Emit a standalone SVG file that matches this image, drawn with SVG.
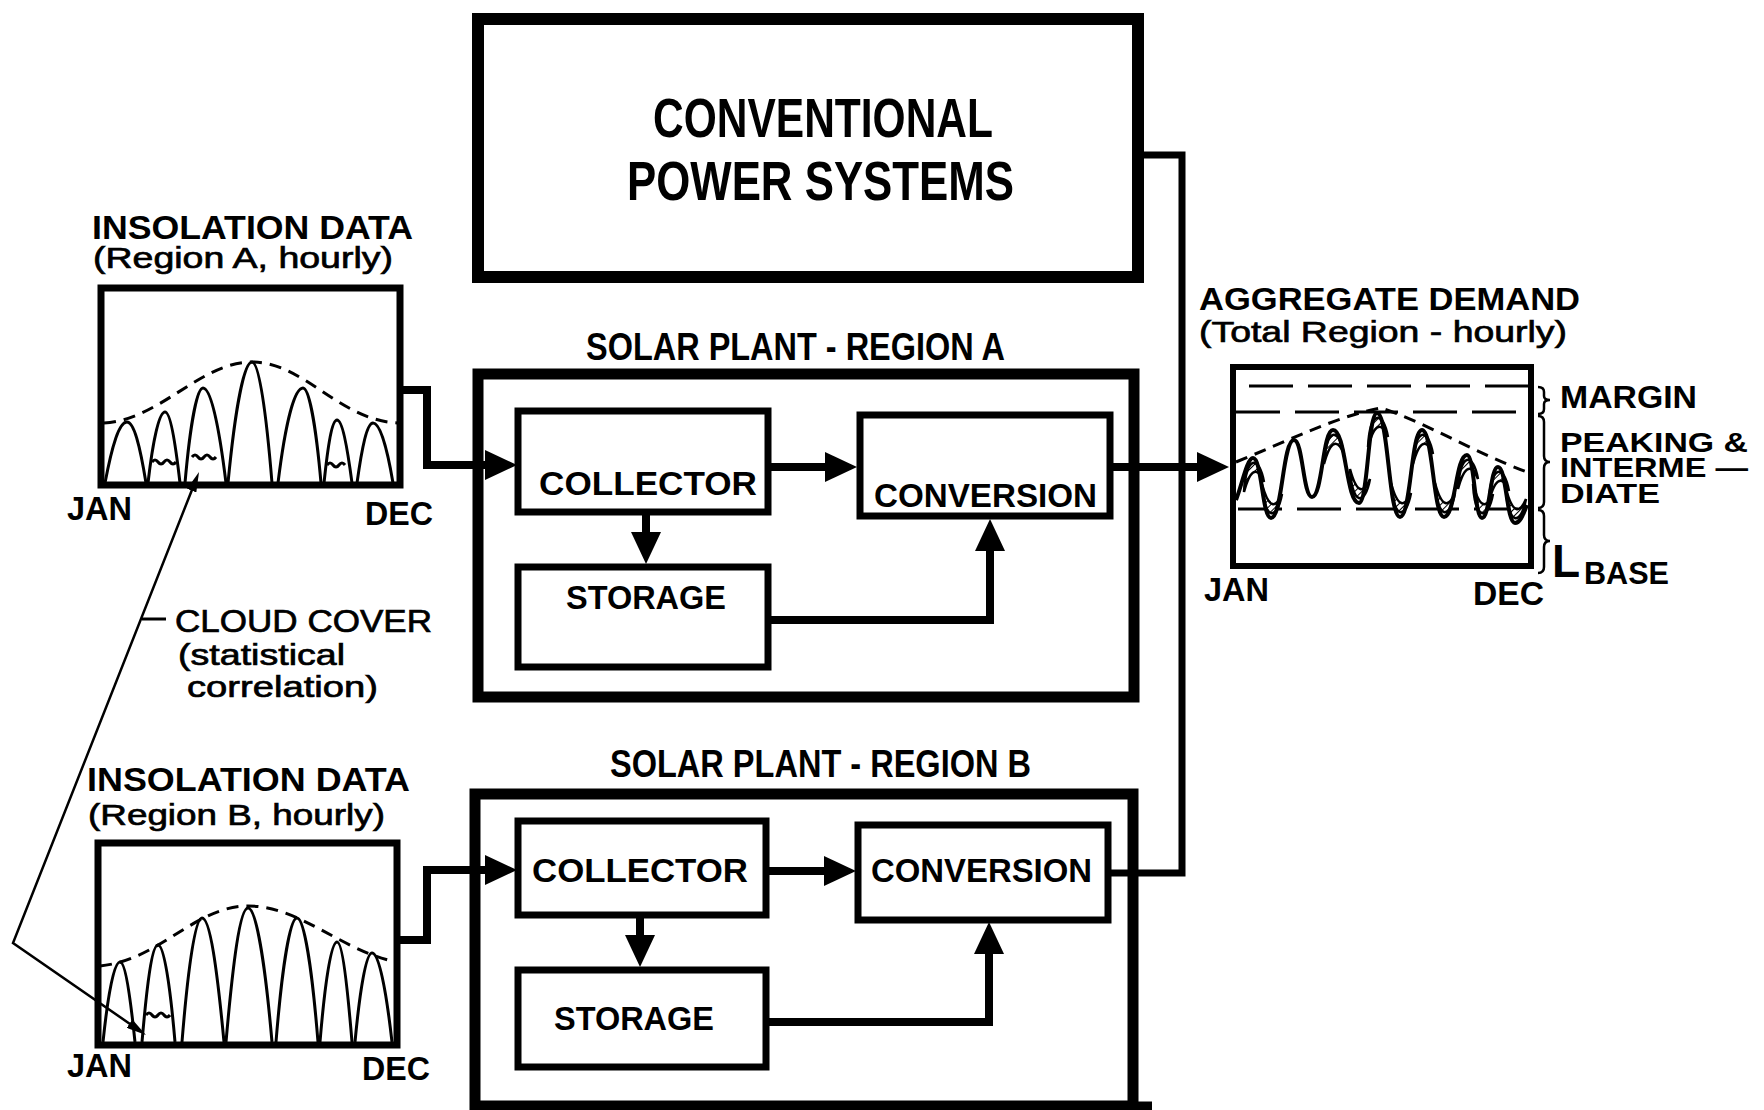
<svg xmlns="http://www.w3.org/2000/svg" width="1764" height="1110" viewBox="0 0 1764 1110">
<style>
.bg{fill:#fff}
.box{fill:none;stroke:#000;stroke-linejoin:miter}
.t{font-family:'Liberation Sans',Arial,sans-serif;font-weight:bold;fill:#000}
.tn{font-family:'Liberation Sans',Arial,sans-serif;font-weight:normal;fill:#000;stroke:#000;stroke-width:0.7}
.cond{font-family:'Liberation Sans Narrow','Liberation Sans',Arial,sans-serif;font-weight:bold;fill:#000}
.wire{fill:none;stroke:#000;stroke-width:8;stroke-linejoin:miter}
.thin{fill:none;stroke:#000;stroke-width:2.5}
.bell{fill:none;stroke:#000;stroke-width:3}
.env{fill:none;stroke:#000;stroke-width:3;stroke-dasharray:12 8}
.lvl{fill:none;stroke:#000;stroke-width:3;stroke-dasharray:44 15}
.lens{fill:url(#hatch);stroke:#000;stroke-width:2.5}
</style>
<defs>
<marker id="ah" viewBox="0 0 32 30" refX="12" refY="15" markerWidth="32" markerHeight="30" markerUnits="userSpaceOnUse" orient="auto">
<path d="M0,0 L32,15 L0,30 Z" fill="#000"/>
</marker>
<marker id="sa" viewBox="0 0 20 10" refX="8" refY="5" markerWidth="20" markerHeight="10" markerUnits="userSpaceOnUse" orient="auto-start-reverse">
<path d="M0,0 L20,5 L0,10 Z" fill="#000"/>
</marker>
<pattern id="hatch" patternUnits="userSpaceOnUse" width="5" height="5" patternTransform="rotate(45)">
<rect width="5" height="5" fill="#fff"/>
<line x1="0" y1="0" x2="0" y2="5" stroke="#000" stroke-width="2"/>
</pattern>
</defs>
<rect class="bg" width="1764" height="1110"/>

<g id="conventional">
<rect class="box" x="478" y="19" width="660" height="258" stroke-width="12"/>
<text class="cond" x="653" y="137" font-size="56" textLength="340" lengthAdjust="spacingAndGlyphs">CONVENTIONAL</text>
<text class="cond" x="627" y="200" font-size="56" textLength="387" lengthAdjust="spacingAndGlyphs">POWER SYSTEMS</text>
</g>

<g id="plant-a">
<text class="cond" x="586" y="360" font-size="39" textLength="419" lengthAdjust="spacingAndGlyphs">SOLAR PLANT - REGION A</text>
<rect class="box" x="478" y="374" width="656" height="323" stroke-width="11"/>
</g>
<g id="collector-a">
<rect class="box" x="518" y="411" width="250" height="101" stroke-width="7"/>
<text class="t" x="539" y="495" font-size="33" textLength="218" lengthAdjust="spacingAndGlyphs">COLLECTOR</text>
</g>
<g id="conversion-a">
<rect class="box" x="860" y="415" width="250" height="101" stroke-width="7"/>
<text class="t" x="874" y="507" font-size="33" textLength="223" lengthAdjust="spacingAndGlyphs">CONVERSION</text>
</g>
<g id="storage-a">
<rect class="box" x="518" y="567" width="250" height="100" stroke-width="7"/>
<text class="t" x="566" y="609" font-size="33" textLength="160" lengthAdjust="spacingAndGlyphs">STORAGE</text>
</g>

<g id="plant-b">
<text class="cond" x="610" y="777" font-size="39" textLength="421" lengthAdjust="spacingAndGlyphs">SOLAR PLANT - REGION B</text>
<rect class="box" x="475" y="794" width="658" height="312" stroke-width="11"/>
<path d="M1133,1106 H1152" fill="none" stroke="#000" stroke-width="9"/>
</g>
<g id="collector-b">
<rect class="box" x="518" y="821" width="248" height="94" stroke-width="7"/>
<text class="t" x="532" y="882" font-size="33" textLength="216" lengthAdjust="spacingAndGlyphs">COLLECTOR</text>
</g>
<g id="conversion-b">
<rect class="box" x="858" y="825" width="250" height="95" stroke-width="7"/>
<text class="t" x="871" y="882" font-size="33" textLength="221" lengthAdjust="spacingAndGlyphs">CONVERSION</text>
</g>
<g id="storage-b">
<rect class="box" x="518" y="970" width="248" height="97" stroke-width="7"/>
<text class="t" x="554" y="1030" font-size="33" textLength="160" lengthAdjust="spacingAndGlyphs">STORAGE</text>
</g>

<g id="insolation-a">
<text class="t" x="92" y="239" font-size="33" textLength="321" lengthAdjust="spacingAndGlyphs">INSOLATION DATA</text>
<text class="tn" x="93" y="268" font-size="30" textLength="300" lengthAdjust="spacingAndGlyphs">(Region A, hourly)</text>
<rect class="box" x="101" y="288" width="299" height="197" stroke-width="7"/>
<path class="env" d="M104,423 C160,420 200,362 252,362 C305,362 340,422 400,423"/>
<path class="bell" d="M105,483 C112,446 119,422 127,422 C134,422 140,446 146,483"/>
<path class="bell" d="M148,483 C153,440 159,412 165,412 C170,412 175,440 180,483"/>
<path class="bell" d="M185,483 C190,426 197,388 203,388 C211,388 219,426 226,483"/>
<path class="bell" d="M228,483 C235,410 244,362 252,362 C259,362 266,410 272,483"/>
<path class="bell" d="M278,483 C285,426 294,388 303,388 C309,388 316,426 321,483"/>
<path class="bell" d="M324,483 C328,445 332,420 337,420 C342,420 347,445 352,483"/>
<path class="bell" d="M357,483 C362,447 367,423 373,423 C380,423 387,447 393,483"/>
<path class="bell" d="M152,462 q3,-4 6,0 t6,0 t6,0 t6,0"/>
<path class="bell" d="M192,457 q3,-4 6,0 t6,0 t6,0 t6,0"/>
<path class="bell" d="M327,465 q3,-4 6,0 t6,0 t6,0"/>
<text class="t" x="67" y="520" font-size="33" textLength="65" lengthAdjust="spacingAndGlyphs">JAN</text>
<text class="t" x="365" y="525" font-size="33" textLength="68" lengthAdjust="spacingAndGlyphs">DEC</text>
</g>

<g id="insolation-b">
<text class="t" x="87" y="791" font-size="33" textLength="323" lengthAdjust="spacingAndGlyphs">INSOLATION DATA</text>
<text class="tn" x="88" y="825" font-size="30" textLength="297" lengthAdjust="spacingAndGlyphs">(Region B, hourly)</text>
<rect class="box" x="98" y="843" width="299" height="202" stroke-width="7"/>
<path class="env" d="M100,966 C160,960 195,906 248,906 C300,906 340,950 396,962"/>
<path class="bell" d="M103,1042 C108,994 114,962 120,962 C125,962 130,994 135,1042"/>
<path class="bell" d="M142,1042 C147,984 152,945 158,945 C164,945 170,984 175,1042"/>
<path class="bell" d="M182,1042 C188,968 195,918 202,918 C210,918 217,968 224,1042"/>
<path class="bell" d="M226,1042 C233,962 240,908 248,908 C256,908 265,962 272,1042"/>
<path class="bell" d="M276,1042 C282,968 290,918 297,918 C304,918 312,968 318,1042"/>
<path class="bell" d="M320,1042 C325,982 331,942 337,942 C342,942 347,982 352,1042"/>
<path class="bell" d="M355,1042 C360,989 366,953 372,953 C379,953 386,989 392,1042"/>
<path class="bell" d="M146,1015 q3,-4 6,0 t6,0 t6,0 t6,0"/>
<text class="t" x="67" y="1077" font-size="33" textLength="65" lengthAdjust="spacingAndGlyphs">JAN</text>
<text class="t" x="362" y="1080" font-size="33" textLength="68" lengthAdjust="spacingAndGlyphs">DEC</text>
</g>

<g id="cloud-cover">
<path class="thin" d="M194.6,483.2 L13,943 L136.1,1028.2" marker-start="url(#sa)" marker-end="url(#sa)"/>
<path d="M142,619 H166" fill="none" stroke="#000" stroke-width="3"/>
<text class="tn" x="175" y="632" font-size="32" textLength="257" lengthAdjust="spacingAndGlyphs">CLOUD COVER</text>
<text class="tn" x="178" y="665" font-size="30" textLength="167" lengthAdjust="spacingAndGlyphs">(statistical</text>
<text class="tn" x="187" y="697" font-size="30" textLength="191" lengthAdjust="spacingAndGlyphs">correlation)</text>
</g>

<g id="demand">
<text class="t" x="1199" y="310" font-size="32" textLength="381" lengthAdjust="spacingAndGlyphs">AGGREGATE DEMAND</text>
<text class="tn" x="1199" y="342" font-size="30" textLength="368" lengthAdjust="spacingAndGlyphs">(Total Region - hourly)</text>
<rect class="box" x="1233" y="367" width="298" height="199" stroke-width="6"/>
<path class="lvl" d="M1249,386 H1528"/>
<path class="lvl" d="M1236,412 H1528"/>
<path class="lvl" d="M1238,509 H1526"/>
<path class="env" d="M1236,462 C1290,440 1340,415 1381,408 C1420,420 1480,455 1527,472"/>
<path class="lens" d="M1244,492 C1246,455 1259,455 1264,482 C1258,468 1251,466 1244,492 Z"/>
<path class="lens" d="M1262,484 C1264,521 1277,521 1282,494 C1276,508 1269,510 1262,484 Z"/>
<path class="lens" d="M1324,464 C1326,427 1339,427 1344,454 C1338,440 1331,438 1324,464 Z"/>
<path class="lens" d="M1350,469 C1352,506 1365,506 1370,479 C1364,493 1357,495 1350,469 Z"/>
<path class="lens" d="M1368,447 C1370,410 1383,410 1388,437 C1382,423 1375,421 1368,447 Z"/>
<path class="lens" d="M1391,483 C1393,520 1406,520 1411,493 C1405,507 1398,509 1391,483 Z"/>
<path class="lens" d="M1413,464 C1415,427 1428,427 1433,454 C1427,440 1420,438 1413,464 Z"/>
<path class="lens" d="M1435,483 C1437,520 1450,520 1455,493 C1449,507 1442,509 1435,483 Z"/>
<path class="lens" d="M1458,489 C1460,452 1473,452 1478,479 C1472,465 1465,463 1458,489 Z"/>
<path class="lens" d="M1473,484 C1475,521 1488,521 1493,494 C1487,508 1480,510 1473,484 Z"/>
<path class="lens" d="M1489,501 C1491,464 1504,464 1509,491 C1503,477 1496,475 1489,501 Z"/>
<path class="lens" d="M1506,489 C1508,526 1521,526 1526,499 C1520,513 1513,515 1506,489 Z"/>
<path d="M1236,500 C1242,485 1247,458 1253,458 C1262,458 1262,518 1271,518 C1282.5,518 1282.5,440 1294,440 C1303,440 1303,497 1312,497 C1322.5,497 1322.5,430 1333,430 C1346,430 1346,503 1359,503 C1368,503 1368,413 1377,413 C1388.5,413 1388.5,517 1400,517 C1411,517 1411,430 1422,430 C1433,430 1433,517 1444,517 C1455.5,517 1455.5,455 1467,455 C1474.5,455 1474.5,518 1482,518 C1490,518 1490,467 1498,467 C1506.5,467 1506.5,523 1515,523 C1521,523 1524,512 1527,505" fill="none" stroke="#000" stroke-width="4"/>
<text class="t" x="1204" y="601" font-size="33" textLength="65" lengthAdjust="spacingAndGlyphs">JAN</text>
<text class="t" x="1473" y="605" font-size="33" textLength="71" lengthAdjust="spacingAndGlyphs">DEC</text>
<path class="thin" d="M1538,387 Q1544,387 1544,392 L1544,396 Q1544,400 1550,400 Q1544,400 1544,404 L1544,409 Q1544,414 1538,414"/>
<path class="thin" d="M1538,416 Q1544,416 1544,422 L1544,456 Q1544,462 1550,462 Q1544,462 1544,468 L1544,502 Q1544,508 1538,508"/>
<path class="thin" d="M1538,510 Q1544,510 1544,516 L1544,535 Q1544,541 1550,541 Q1544,541 1544,547 L1544,567 Q1544,573 1538,573"/>
<text class="t" x="1560" y="408" font-size="32" textLength="137" lengthAdjust="spacingAndGlyphs">MARGIN</text>
<text class="t" x="1560" y="452" font-size="28" textLength="188" lengthAdjust="spacingAndGlyphs">PEAKING &amp;</text>
<text class="t" x="1560" y="477" font-size="28" textLength="188" lengthAdjust="spacingAndGlyphs">INTERME —</text>
<text class="t" x="1560" y="503" font-size="28" textLength="100" lengthAdjust="spacingAndGlyphs">DIATE</text>
<text class="t" x="1552" y="577" font-size="46">L</text>
<text class="t" x="1584" y="584" font-size="32" textLength="85" lengthAdjust="spacingAndGlyphs">BASE</text>
</g>

<g id="connectors">
<path class="wire" d="M400,390 H427 V465 H497" marker-end="url(#ah)"/>
<path class="wire" d="M771,467 H837" marker-end="url(#ah)"/>
<path class="wire" d="M646,515 V544" marker-end="url(#ah)"/>
<path class="wire" d="M771,620 H990 V539" marker-end="url(#ah)"/>
<path class="wire" d="M1113,467 H1209" marker-end="url(#ah)"/>
<path class="wire" d="M397,940 H427 V870 H497" marker-end="url(#ah)"/>
<path class="wire" d="M769,871 H836" marker-end="url(#ah)"/>
<path class="wire" d="M640,918 V947" marker-end="url(#ah)"/>
<path class="wire" d="M769,1022 H989 V942" marker-end="url(#ah)"/>
<path d="M1143,155 H1182 V873 H1111" fill="none" stroke="#000" stroke-width="7"/>
</g>
</svg>
